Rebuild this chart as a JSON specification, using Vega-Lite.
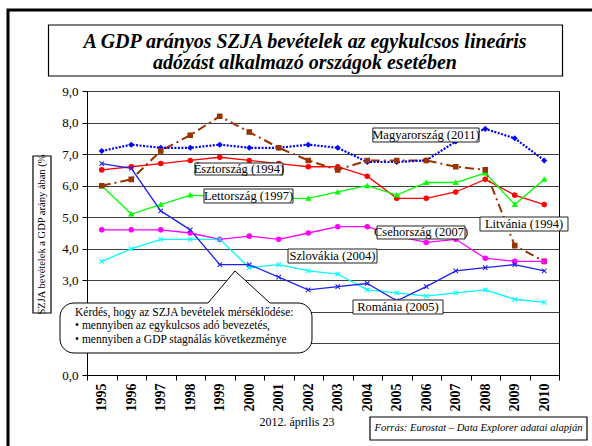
{
  "$schema": "https://vega.github.io/schema/vega-lite/v6.json",
  "width": 472,
  "height": 284,
  "autosize": {"type": "none"},
  "padding": {"left": 87, "top": 91, "right": 33, "bottom": 71},
  "background": "white",
  "config": {"view": {"stroke": "black", "strokeWidth": 1}, "font": "Liberation Serif"},
  "datasets": {
    "series": [
      {"country": "Magyarország", "year": 1995, "value": 7.1}, {"country": "Magyarország", "year": 1996, "value": 7.3}, {"country": "Magyarország", "year": 1997, "value": 7.2}, {"country": "Magyarország", "year": 1998, "value": 7.2}, {"country": "Magyarország", "year": 1999, "value": 7.3}, {"country": "Magyarország", "year": 2000, "value": 7.2}, {"country": "Magyarország", "year": 2001, "value": 7.2}, {"country": "Magyarország", "year": 2002, "value": 7.3}, {"country": "Magyarország", "year": 2003, "value": 7.2}, {"country": "Magyarország", "year": 2004, "value": 6.75}, {"country": "Magyarország", "year": 2005, "value": 6.75}, {"country": "Magyarország", "year": 2006, "value": 6.8}, {"country": "Magyarország", "year": 2007, "value": 7.4}, {"country": "Magyarország", "year": 2008, "value": 7.8}, {"country": "Magyarország", "year": 2009, "value": 7.5}, {"country": "Magyarország", "year": 2010, "value": 6.8},
      {"country": "Észtország", "year": 1995, "value": 6.5}, {"country": "Észtország", "year": 1996, "value": 6.6}, {"country": "Észtország", "year": 1997, "value": 6.7}, {"country": "Észtország", "year": 1998, "value": 6.8}, {"country": "Észtország", "year": 1999, "value": 6.9}, {"country": "Észtország", "year": 2000, "value": 6.8}, {"country": "Észtország", "year": 2001, "value": 6.7}, {"country": "Észtország", "year": 2002, "value": 6.6}, {"country": "Észtország", "year": 2003, "value": 6.6}, {"country": "Észtország", "year": 2004, "value": 6.3}, {"country": "Észtország", "year": 2005, "value": 5.6}, {"country": "Észtország", "year": 2006, "value": 5.6}, {"country": "Észtország", "year": 2007, "value": 5.8}, {"country": "Észtország", "year": 2008, "value": 6.2}, {"country": "Észtország", "year": 2009, "value": 5.7}, {"country": "Észtország", "year": 2010, "value": 5.4},
      {"country": "Lettország", "year": 1995, "value": 6.0}, {"country": "Lettország", "year": 1996, "value": 5.1}, {"country": "Lettország", "year": 1997, "value": 5.4}, {"country": "Lettország", "year": 1998, "value": 5.7}, {"country": "Lettország", "year": 1999, "value": 5.65}, {"country": "Lettország", "year": 2000, "value": 5.6}, {"country": "Lettország", "year": 2001, "value": 5.6}, {"country": "Lettország", "year": 2002, "value": 5.6}, {"country": "Lettország", "year": 2003, "value": 5.8}, {"country": "Lettország", "year": 2004, "value": 6.0}, {"country": "Lettország", "year": 2005, "value": 5.7}, {"country": "Lettország", "year": 2006, "value": 6.1}, {"country": "Lettország", "year": 2007, "value": 6.1}, {"country": "Lettország", "year": 2008, "value": 6.4}, {"country": "Lettország", "year": 2009, "value": 5.4}, {"country": "Lettország", "year": 2010, "value": 6.2},
      {"country": "Litvánia", "year": 1995, "value": 6.0}, {"country": "Litvánia", "year": 1996, "value": 6.2}, {"country": "Litvánia", "year": 1997, "value": 7.1}, {"country": "Litvánia", "year": 1998, "value": 7.6}, {"country": "Litvánia", "year": 1999, "value": 8.2}, {"country": "Litvánia", "year": 2000, "value": 7.7}, {"country": "Litvánia", "year": 2001, "value": 7.2}, {"country": "Litvánia", "year": 2002, "value": 6.8}, {"country": "Litvánia", "year": 2003, "value": 6.5}, {"country": "Litvánia", "year": 2004, "value": 6.8}, {"country": "Litvánia", "year": 2005, "value": 6.8}, {"country": "Litvánia", "year": 2006, "value": 6.8}, {"country": "Litvánia", "year": 2007, "value": 6.6}, {"country": "Litvánia", "year": 2008, "value": 6.5}, {"country": "Litvánia", "year": 2009, "value": 4.1}, {"country": "Litvánia", "year": 2010, "value": 3.6},
      {"country": "Csehország", "year": 1995, "value": 4.6}, {"country": "Csehország", "year": 1996, "value": 4.6}, {"country": "Csehország", "year": 1997, "value": 4.6}, {"country": "Csehország", "year": 1998, "value": 4.5}, {"country": "Csehország", "year": 1999, "value": 4.3}, {"country": "Csehország", "year": 2000, "value": 4.4}, {"country": "Csehország", "year": 2001, "value": 4.3}, {"country": "Csehország", "year": 2002, "value": 4.5}, {"country": "Csehország", "year": 2003, "value": 4.7}, {"country": "Csehország", "year": 2004, "value": 4.7}, {"country": "Csehország", "year": 2005, "value": 4.4}, {"country": "Csehország", "year": 2006, "value": 4.2}, {"country": "Csehország", "year": 2007, "value": 4.3}, {"country": "Csehország", "year": 2008, "value": 3.7}, {"country": "Csehország", "year": 2009, "value": 3.6}, {"country": "Csehország", "year": 2010, "value": 3.6},
      {"country": "Szlovákia", "year": 1995, "value": 3.6}, {"country": "Szlovákia", "year": 1996, "value": 4.0}, {"country": "Szlovákia", "year": 1997, "value": 4.3}, {"country": "Szlovákia", "year": 1998, "value": 4.3}, {"country": "Szlovákia", "year": 1999, "value": 4.3}, {"country": "Szlovákia", "year": 2000, "value": 3.4}, {"country": "Szlovákia", "year": 2001, "value": 3.5}, {"country": "Szlovákia", "year": 2002, "value": 3.3}, {"country": "Szlovákia", "year": 2003, "value": 3.2}, {"country": "Szlovákia", "year": 2004, "value": 2.7}, {"country": "Szlovákia", "year": 2005, "value": 2.6}, {"country": "Szlovákia", "year": 2006, "value": 2.5}, {"country": "Szlovákia", "year": 2007, "value": 2.6}, {"country": "Szlovákia", "year": 2008, "value": 2.7}, {"country": "Szlovákia", "year": 2009, "value": 2.4}, {"country": "Szlovákia", "year": 2010, "value": 2.3},
      {"country": "Románia", "year": 1995, "value": 6.7}, {"country": "Románia", "year": 1996, "value": 6.55}, {"country": "Románia", "year": 1997, "value": 5.2}, {"country": "Románia", "year": 1998, "value": 4.6}, {"country": "Románia", "year": 1999, "value": 3.5}, {"country": "Románia", "year": 2000, "value": 3.5}, {"country": "Románia", "year": 2001, "value": 3.1}, {"country": "Románia", "year": 2002, "value": 2.7}, {"country": "Románia", "year": 2003, "value": 2.8}, {"country": "Románia", "year": 2004, "value": 2.9}, {"country": "Románia", "year": 2005, "value": 2.35}, {"country": "Románia", "year": 2006, "value": 2.8}, {"country": "Románia", "year": 2007, "value": 3.3}, {"country": "Románia", "year": 2008, "value": 3.4}, {"country": "Románia", "year": 2009, "value": 3.5}, {"country": "Románia", "year": 2010, "value": 3.3}
    ],
    "labels": [
      {"label": "Magyarország (2011)", "x1": 2004.19, "x2": 2007.79, "y1": 7.827, "y2": 7.384, "tx": 2005.99, "ty": 7.605},
      {"label": "Észtország (1994)", "x1": 1998.161, "x2": 2001.144, "y1": 6.718, "y2": 6.338, "tx": 1999.652, "ty": 6.528},
      {"label": "Lettország (1997)", "x1": 1998.466, "x2": 2001.483, "y1": 5.894, "y2": 5.451, "tx": 1999.975, "ty": 5.673},
      {"label": "Litvánia (1994)", "x1": 2007.822, "x2": 2010.805, "y1": 5.007, "y2": 4.563, "tx": 2009.314, "ty": 4.785},
      {"label": "Csehország (2007)", "x1": 2004.331, "x2": 2007.314, "y1": 4.722, "y2": 4.31, "tx": 2005.822, "ty": 4.516},
      {"label": "Szlovákia (2004)", "x1": 2001.314, "x2": 2004.331, "y1": 3.993, "y2": 3.549, "tx": 2002.822, "ty": 3.771},
      {"label": "Románia (2005)", "x1": 2003.517, "x2": 2006.568, "y1": 2.377, "y2": 1.933, "tx": 2005.042, "ty": 2.155}
    ]
  },
  "layer": [
    {
      "data": {"name": "series"},
      "encoding": {
        "x": {"field": "year", "type": "ordinal", "scale": {"type": "band", "paddingInner": 0, "paddingOuter": 0},
          "axis": {"title": null, "tickBand": "extent", "labelAngle": -90, "labelAlign": "right", "labelBaseline": "middle", "labelFont": "Liberation Serif", "labelFontSize": 14, "labelFontWeight": "bold", "labelColor": "black", "tickColor": "black", "domainColor": "black", "tickSize": 5, "labelPadding": 3, "grid": false}},
        "y": {"field": "value", "type": "quantitative", "scale": {"domain": [0, 9], "nice": false, "zero": false},
          "axis": {"title": null, "values": [0, 1, 2, 3, 4, 5, 6, 7, 8, 9], "labelExpr": "replace(format(datum.value, '.1f'), '.', ',')", "grid": true, "gridColor": "#404040", "gridOpacity": 1, "gridWidth": 1, "tickSize": 5, "tickColor": "black", "domainColor": "black", "labelFont": "Liberation Serif", "labelFontSize": 13, "labelColor": "black", "labelPadding": 4}}
      },
      "layer": [
        {"transform": [{"filter": "datum.country !== 'Magyarország' && datum.country !== 'Litvánia'"}],
          "mark": {"type": "line", "strokeWidth": 1.3},
          "encoding": {"color": {"field": "country", "type": "nominal", "legend": null,
            "scale": {"domain": ["Magyarország", "Észtország", "Lettország", "Litvánia", "Csehország", "Szlovákia", "Románia"], "range": ["#0000ff", "#ff0000", "#00ff00", "#993300", "#ff00ff", "#00ffff", "#2020ee"]}}}},
        {"transform": [{"filter": "datum.country === 'Litvánia'"}],
          "mark": {"type": "line", "strokeWidth": 2, "color": "#993300", "strokeDash": [9, 4, 2, 4]}},
        {"transform": [{"filter": "datum.country === 'Magyarország'"}],
          "mark": {"type": "line", "strokeWidth": 2.2, "color": "#0000ff", "strokeDash": [2, 1.5]}},
        {"mark": {"type": "point", "filled": true, "opacity": 1, "size": 20, "strokeWidth": 1.1},
          "encoding": {
            "shape": {"field": "country", "type": "nominal", "legend": null,
              "scale": {"domain": ["Magyarország", "Észtország", "Lettország", "Litvánia", "Csehország", "Szlovákia", "Románia"], "range": ["diamond", "circle", "triangle-up", "square", "circle", "M-1,-1L1,1M-1,1L1,-1", "M-1,-1L1,1M-1,1L1,-1"]}},
            "fill": {"field": "country", "type": "nominal", "legend": null,
              "scale": {"domain": ["Magyarország", "Észtország", "Lettország", "Litvánia", "Csehország", "Szlovákia", "Románia"], "range": ["#0000ff", "#ff0000", "#00ff00", "#993300", "#ff00ff", "#00ffff", "#2020ee"]}},
            "stroke": {"field": "country", "type": "nominal", "legend": null,
              "scale": {"domain": ["Magyarország", "Észtország", "Lettország", "Litvánia", "Csehország", "Szlovákia", "Románia"], "range": ["#0000ff", "#ff0000", "#00ff00", "#993300", "#ff00ff", "#00ffff", "#2020ee"]}}
          }}
      ]
    },
    {
      "data": {"name": "labels"},
      "mark": {"type": "rect", "fill": "white", "stroke": "#222222", "strokeWidth": 1},
      "encoding": {
        "x": {"field": "x1", "type": "quantitative", "scale": {"domain": [1994.5, 2010.5], "nice": false, "zero": false}, "axis": null},
        "x2": {"field": "x2"},
        "y": {"field": "y1", "type": "quantitative", "scale": {"domain": [0, 9], "nice": false, "zero": false}, "axis": null},
        "y2": {"field": "y2"}
      }
    },
    {
      "data": {"name": "labels"},
      "mark": {"type": "text", "font": "Liberation Serif", "fontSize": 12.5, "color": "black", "align": "center", "baseline": "middle"},
      "encoding": {
        "x": {"field": "tx", "type": "quantitative", "scale": {"domain": [1994.5, 2010.5], "nice": false, "zero": false}, "axis": null},
        "y": {"field": "ty", "type": "quantitative", "scale": {"domain": [0, 9], "nice": false, "zero": false}, "axis": null},
        "text": {"field": "label"}
      }
    },
    {
      "data": {"values": [{"x1": 1993.585, "x2": 2002.127, "y1": 2.282, "y2": 0.697}]},
      "mark": {"type": "rect", "fill": "white", "stroke": "black", "strokeWidth": 1, "cornerRadius": 14},
      "encoding": {
        "x": {"field": "x1", "type": "quantitative", "scale": {"domain": [1994.5, 2010.5], "nice": false, "zero": false}, "axis": null},
        "x2": {"field": "x2"},
        "y": {"field": "y1", "type": "quantitative", "scale": {"domain": [0, 9], "nice": false, "zero": false}, "axis": null},
        "y2": {"field": "y2"}
      }
    },
    {
      "data": {"values": [{"x": 1998.602, "y": 2.282, "yb": 2.15}, {"x": 1999.517, "y": 3.296, "yb": 2.15}, {"x": 2000.703, "y": 2.282, "yb": 2.15}]},
      "mark": {"type": "area", "fill": "white", "opacity": 1},
      "encoding": {
        "x": {"field": "x", "type": "quantitative", "scale": {"domain": [1994.5, 2010.5], "nice": false, "zero": false}, "axis": null},
        "y": {"field": "y", "type": "quantitative", "scale": {"domain": [0, 9], "nice": false, "zero": false}, "axis": null},
        "y2": {"field": "yb"}
      }
    },
    {
      "data": {"values": [{"x": 1998.602, "y": 2.282}, {"x": 1999.517, "y": 3.296}, {"x": 2000.703, "y": 2.282}]},
      "mark": {"type": "line", "color": "black", "strokeWidth": 1},
      "encoding": {
        "x": {"field": "x", "type": "quantitative", "scale": {"domain": [1994.5, 2010.5], "nice": false, "zero": false}, "axis": null},
        "y": {"field": "y", "type": "quantitative", "scale": {"domain": [0, 9], "nice": false, "zero": false}, "axis": null}
      }
    },
    {
      "data": {"values": [
        {"t": "Kérdés, hogy az SZJA bevételek mérséklődése:", "x": 1994.093, "y": 1.975},
        {"t": "• mennyiben az egykulcsos adó bevezetés,", "x": 1994.093, "y": 1.537},
        {"t": "• mennyiben a GDP stagnálás következménye", "x": 1994.093, "y": 1.099}
      ]},
      "mark": {"type": "text", "font": "Liberation Serif", "fontSize": 11.5, "color": "black", "align": "left", "baseline": "middle"},
      "encoding": {
        "x": {"field": "x", "type": "quantitative", "scale": {"domain": [1994.5, 2010.5], "nice": false, "zero": false}, "axis": null},
        "y": {"field": "y", "type": "quantitative", "scale": {"domain": [0, 9], "nice": false, "zero": false}, "axis": null},
        "text": {"field": "t"}
      }
    },
    {
      "data": {"values": [
        {"kind": "title", "x1": 1993.195, "x2": 2010.619, "y1": 11.091, "y2": 9.475},
        {"kind": "ytitle", "x1": 1992.669, "x2": 1993.28, "y1": 6.94, "y2": 1.965},
        {"kind": "source", "x1": 2004.093, "x2": 2011.449, "y1": -1.331, "y2": -2.06}
      ]},
      "mark": {"type": "rect", "fill": "white", "stroke": "black", "strokeWidth": 1.2},
      "encoding": {
        "x": {"field": "x1", "type": "quantitative", "scale": {"domain": [1994.5, 2010.5], "nice": false, "zero": false}, "axis": null},
        "x2": {"field": "x2"},
        "y": {"field": "y1", "type": "quantitative", "scale": {"domain": [0, 9], "nice": false, "zero": false}, "axis": null},
        "y2": {"field": "y2"}
      }
    },
    {
      "data": {"values": [
        {"t": "A GDP arányos SZJA bevételek az egykulcsos lineáris", "x": 2001.89, "y": 10.553},
        {"t": "adózást alkalmazó országok esetében", "x": 2001.89, "y": 9.887}
      ]},
      "mark": {"type": "text", "font": "Liberation Serif", "fontSize": 20, "fontWeight": "bold", "fontStyle": "italic", "color": "black", "align": "center", "baseline": "middle"},
      "encoding": {
        "x": {"field": "x", "type": "quantitative", "scale": {"domain": [1994.5, 2010.5], "nice": false, "zero": false}, "axis": null},
        "y": {"field": "y", "type": "quantitative", "scale": {"domain": [0, 9], "nice": false, "zero": false}, "axis": null},
        "text": {"field": "t"}
      }
    },
    {
      "data": {"values": [{"t": "SZJA bevételek a GDP arány ában (%", "x": 1992.975, "y": 4.452}]},
      "mark": {"type": "text", "font": "Liberation Serif", "fontSize": 10.5, "color": "black", "align": "center", "baseline": "middle", "angle": 270},
      "encoding": {
        "x": {"field": "x", "type": "quantitative", "scale": {"domain": [1994.5, 2010.5], "nice": false, "zero": false}, "axis": null},
        "y": {"field": "y", "type": "quantitative", "scale": {"domain": [0, 9], "nice": false, "zero": false}, "axis": null},
        "text": {"field": "t"}
      }
    },
    {
      "data": {"values": [{"t": "2012. április 23", "x": 2001.619, "y": -1.489}]},
      "mark": {"type": "text", "font": "Liberation Serif", "fontSize": 12, "color": "black", "align": "center", "baseline": "middle"},
      "encoding": {
        "x": {"field": "x", "type": "quantitative", "scale": {"domain": [1994.5, 2010.5], "nice": false, "zero": false}, "axis": null},
        "y": {"field": "y", "type": "quantitative", "scale": {"domain": [0, 9], "nice": false, "zero": false}, "axis": null},
        "text": {"field": "t"}
      }
    },
    {
      "data": {"values": [{"t": "Forrás: Eurostat – Data Explorer adatai alapján", "x": 2007.771, "y": -1.695}]},
      "mark": {"type": "text", "font": "Liberation Serif", "fontSize": 10.6, "fontStyle": "italic", "color": "black", "align": "center", "baseline": "middle"},
      "encoding": {
        "x": {"field": "x", "type": "quantitative", "scale": {"domain": [1994.5, 2010.5], "nice": false, "zero": false}, "axis": null},
        "y": {"field": "y", "type": "quantitative", "scale": {"domain": [0, 9], "nice": false, "zero": false}, "axis": null},
        "text": {"field": "t"}
      }
    },
    {
      "data": {"values": [{"x1": 1991.822, "x2": 2014, "y1": 11.567, "y2": -5}]},
      "mark": {"type": "rect", "fill": "transparent", "stroke": "black", "strokeWidth": 3},
      "encoding": {
        "x": {"field": "x1", "type": "quantitative", "scale": {"domain": [1994.5, 2010.5], "nice": false, "zero": false}, "axis": null},
        "x2": {"field": "x2"},
        "y": {"field": "y1", "type": "quantitative", "scale": {"domain": [0, 9], "nice": false, "zero": false}, "axis": null},
        "y2": {"field": "y2"}
      }
    }
  ],
  "resolve": {"scale": {"x": "independent", "y": "independent"}}
}
